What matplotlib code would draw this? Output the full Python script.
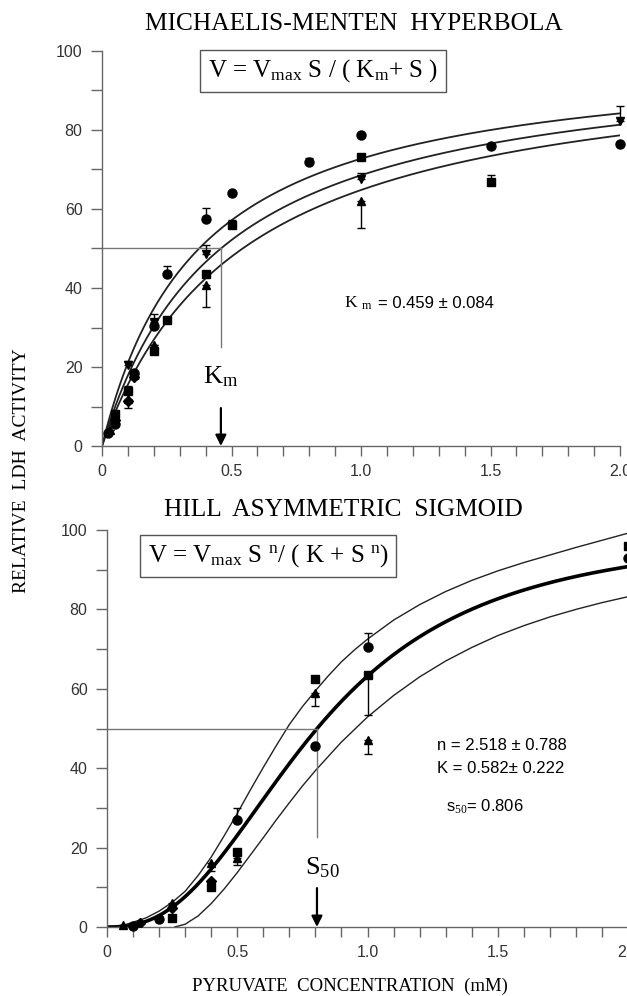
import numpy as np
import matplotlib
matplotlib.use('Agg')
import matplotlib.pyplot as plt
from matplotlib.ticker import FixedLocator, MultipleLocator

# fonts: serif for titles, sans for the numbers
NUM = 'Liberation Sans'
SERIF = 'Liberation Serif'
plt.rcParams['mathtext.fontset'] = 'custom'
plt.rcParams['mathtext.rm'] = SERIF
plt.rcParams['mathtext.it'] = SERIF + ':italic'

# ---- top panel: Michaelis-Menten ----
km, km_se, vmax = 0.459, 0.084, 100.0

top_circ_x = [0.025, 0.05, 0.125, 0.2, 0.25, 0.4, 0.5, 0.8, 1.0, 1.5, 2.0]
top_circ_y = [3.2, 5.5, 18.4, 30.5, 43.5, 57.5, 64.0, 72.0, 78.8, 76.0, 76.5]
top_circ_e = [0, 0, 0, 1.5, 2.0, 2.7, 0, 0.8, 0, 0, 0]

top_sq_x = [0.05, 0.1, 0.125, 0.2, 0.25, 0.4, 0.5, 1.0, 1.5]
top_sq_y = [8.0, 14.0, 18.0, 24.0, 32.0, 43.5, 56.0, 73.2, 66.8]
top_sq_e = [0, 1.2, 0.8, 1.5, 0.6, 0, 1.2, 0, 1.9]

top_up_x = [0.03, 0.1, 0.2, 0.4, 1.0]
top_up_y = [4.0, 12.0, 25.5, 40.8, 62.0]
top_up_e = [0, 2.5, 1.5, 5.5, 6.8]

top_dn_x = [0.05, 0.1, 0.2, 0.4, 1.0, 2.0]
top_dn_y = [7.0, 20.5, 31.5, 48.5, 67.5, 82.2]
top_dn_e = [0, 1.0, 2.0, 2.4, 1.5, 4.0]

top_dia_x = [0.05, 0.1, 0.125]
top_dia_y = [6.5, 11.5, 17.5]

# ---- bottom panel: Hill ----
hill_n, hill_k, s50 = 2.518, 0.582, 0.806

bot_circ_x = [0.1, 0.2, 0.5, 0.8, 1.0, 2.0]
bot_circ_y = [0.2, 2.0, 27.0, 45.6, 70.6, 93.0]
bot_circ_e = [0, 0, 3.0, 0, 3.4, 0]

bot_sq_x = [0.25, 0.4, 0.5, 0.8, 1.0, 2.0]
bot_sq_y = [2.2, 10.2, 19.0, 62.4, 63.5, 96.0]
bot_sq_e = [0, 1.0, 0, 0, 10.0, 0]

bot_up_x = [0.06, 0.25, 0.4, 0.5, 0.8, 1.0]
bot_up_y = [0.5, 6.0, 16.0, 17.5, 59.0, 47.0]
bot_up_e = [0, 1.2, 2.0, 2.0, 3.3, 3.3]

bot_dia_x = [0.125, 0.25, 0.4]
bot_dia_y = [1.0, 4.8, 11.5]

# confidence band curves
band_hi_x = [0.04, 0.1, 0.15, 0.2, 0.25, 0.3, 0.35, 0.4, 0.45, 0.5, 0.55, 0.6, 0.65,
             0.7, 0.75, 0.8, 0.85, 0.9, 0.95, 1.0, 1.1, 1.2, 1.3, 1.4, 1.5, 1.6,
             1.7, 1.8, 1.9, 2.0]
band_hi_y = [0.0, 1.2, 2.3, 4.0, 6.2, 9.0, 13.0, 17.6, 23.0, 28.6, 34.5, 40.2, 45.7,
             51.0, 55.5, 59.5, 63.3, 66.8, 69.8, 72.5, 77.3, 81.2, 84.5, 87.3, 89.7,
             91.8, 93.7, 95.6, 97.4, 99.2]
band_lo_x = [0.26, 0.3, 0.35, 0.4, 0.45, 0.5, 0.55, 0.6, 0.65, 0.7, 0.75, 0.8, 0.9,
             1.0, 1.1, 1.2, 1.3, 1.4, 1.5, 1.6, 1.7, 1.8, 1.9, 2.0]
band_lo_y = [0.0, 0.7, 2.8, 5.9, 9.6, 13.7, 18.1, 22.5, 27.0, 31.3, 35.5, 39.4, 46.6,
             52.9, 58.3, 63.0, 67.0, 70.4, 73.4, 75.9, 78.1, 80.0, 81.7, 83.2]

W, H = 627, 996
fig = plt.figure(figsize=(W / 100, H / 100), dpi=100)
ax1 = fig.add_axes([102 / W, 1 - 446 / H, (620 - 102) / W, (446 - 51) / H])
ax2 = fig.add_axes([107 / W, 1 - 927 / H, (628 - 107) / W, (927 - 530) / H])

AX_COL = '#666666'
for ax in (ax1, ax2):
    ax.set_xlim(0, 2.0)
    ax.set_ylim(0, 100)
    for sp in ('top', 'right'):
        ax.spines[sp].set_visible(False)
    for sp in ('left', 'bottom'):
        ax.spines[sp].set_color(AX_COL)
        ax.spines[sp].set_linewidth(1.0)
    ax.xaxis.set_major_locator(FixedLocator([0, 0.5, 1.0, 1.5, 2.0]))
    ax.xaxis.set_minor_locator(MultipleLocator(0.1))
    ax.yaxis.set_major_locator(MultipleLocator(20))
    ax.yaxis.set_minor_locator(MultipleLocator(10))
    ax.set_xticklabels(['0', '0.5', '1.0', '1.5', '2.0'])
    ax.tick_params(axis='x', which='both', direction='out', length=7, width=1,
                   color=AX_COL, pad=6)
    ax.tick_params(axis='y', which='both', direction='out', length=8, width=1,
                   color=AX_COL, pad=6)
    for lab in ax.get_xticklabels() + ax.get_yticklabels():
        lab.set_fontfamily(NUM)
        lab.set_fontsize(11.5)
        lab.set_color('#333333')

mk = dict(color='black', linestyle='none', capsize=3, elinewidth=1,
          capthick=1, clip_on=False, zorder=4)


def one_side(e, up=True):
    e = np.asarray(e, float)
    z = np.zeros_like(e)
    return [z, e] if up else [e, z]


# top panel curves (model from the printed equation and Km +/- SE)
s = np.linspace(0.0, 2.0, 300)
for k in (km - km_se, km, km + km_se):
    ax1.plot(s, vmax * s / (k + s), color='#222222', lw=1.3)

ax1.errorbar(top_circ_x, top_circ_y, yerr=one_side(top_circ_e), marker='o', ms=6.5, **mk)
ax1.errorbar(top_sq_x, top_sq_y, yerr=one_side(top_sq_e), marker='s', ms=5.5, **mk)
ax1.errorbar(top_up_x, top_up_y, yerr=one_side(top_up_e, False), marker='^', ms=6, **mk)
ax1.errorbar(top_dn_x, top_dn_y, yerr=one_side(top_dn_e), marker='v', ms=6, **mk)
ax1.plot(top_dia_x, top_dia_y, 'D', color='black', ms=5, zorder=4)

ax1.plot([0, km], [50, 50], color='#777777', lw=1)
ax1.plot([km, km], [50, 25], color='#777777', lw=1)
ax1.text(km, 17.5, r'K$_{\rm m}$', fontsize=19, family=SERIF, ha='center', va='center')
ax1.annotate('', xy=(km, 0), xytext=(km, 9.6),
             arrowprops=dict(arrowstyle='-|>', color='black', lw=1.6,
                             mutation_scale=16, shrinkA=0, shrinkB=0))
ax1.text(0.934, 36.2, r'K $_{\rm m}$', fontsize=12.5, family=SERIF, ha='left', va='center')
ax1.text(1.065, 36.2, '= 0.459 ± 0.084', fontsize=12, family=NUM, ha='left', va='center')

# bottom panel curves
ax2.plot(s, vmax * s ** hill_n / (hill_k + s ** hill_n), color='black', lw=2.6)
ax2.plot(band_hi_x, band_hi_y, color='#222222', lw=1.0)
ax2.plot(band_lo_x, band_lo_y, color='#222222', lw=1.0)

ax2.errorbar(bot_circ_x, bot_circ_y, yerr=one_side(bot_circ_e), marker='o', ms=6.5, **mk)
ax2.errorbar(bot_sq_x, bot_sq_y, yerr=one_side(bot_sq_e, False), marker='s', ms=5.5, **mk)
ax2.errorbar(bot_up_x, bot_up_y, yerr=one_side(bot_up_e, False), marker='^', ms=6, **mk)
ax2.plot(bot_dia_x, bot_dia_y, 'D', color='black', ms=5, zorder=4)

ax2.plot([0, s50], [50, 50], color='#777777', lw=1)
ax2.plot([s50, s50], [50, 22.7], color='#777777', lw=1)
ax2.text(s50 + 0.02, 14.9, r'S$_{\rm 50}$', fontsize=19, family=SERIF, ha='center', va='center')
ax2.annotate('', xy=(s50, 0), xytext=(s50, 9.8),
             arrowprops=dict(arrowstyle='-|>', color='black', lw=1.6,
                             mutation_scale=16, shrinkA=0, shrinkB=0))
ax2.text(1.265, 45.8, 'n = 2.518 ± 0.788', fontsize=12, family=NUM, ha='left', va='center')
ax2.text(1.265, 39.8, 'K = 0.582± 0.222', fontsize=12, family=NUM, ha='left', va='center')
ax2.text(1.30, 30.3, r's$_{\rm 50}$= 0.806', fontsize=12, family=NUM, ha='left', va='center')

# titles, equations, axis labels
fig.text(354 / W, 1 - 24 / H, 'MICHAELIS-MENTEN  HYPERBOLA', fontsize=18.3,
         family=SERIF, ha='center', va='center')
fig.text(343 / W, 1 - 510 / H, 'HILL  ASYMMETRIC  SIGMOID', fontsize=18.3,
         family=SERIF, ha='center', va='center')

box = dict(boxstyle='square,pad=0.3', facecolor='white', edgecolor='#555555', lw=1)
fig.text(323 / W, 1 - 71 / H, r'V = V$_{\rm max}$ S / ( K$_{\rm m}$+ S )', fontsize=18,
         family=SERIF, ha='center', va='center', bbox=box)
fig.text(268 / W, 1 - 556 / H, r'V = V$_{\rm max}$ S $^{\rm n}$/ ( K + S $^{\rm n}$)',
         fontsize=18, family=SERIF, ha='center', va='center', bbox=box)

fig.text(22 / W, 1 - 471 / H, 'RELATIVE  LDH  ACTIVITY', fontsize=14, family=SERIF,
         rotation=90, ha='center', va='center')
fig.text(350 / W, 1 - 986 / H, 'PYRUVATE  CONCENTRATION  (mM)', fontsize=13.5,
         family=SERIF, ha='center', va='center')

fig.savefig('out.png', dpi=100)
